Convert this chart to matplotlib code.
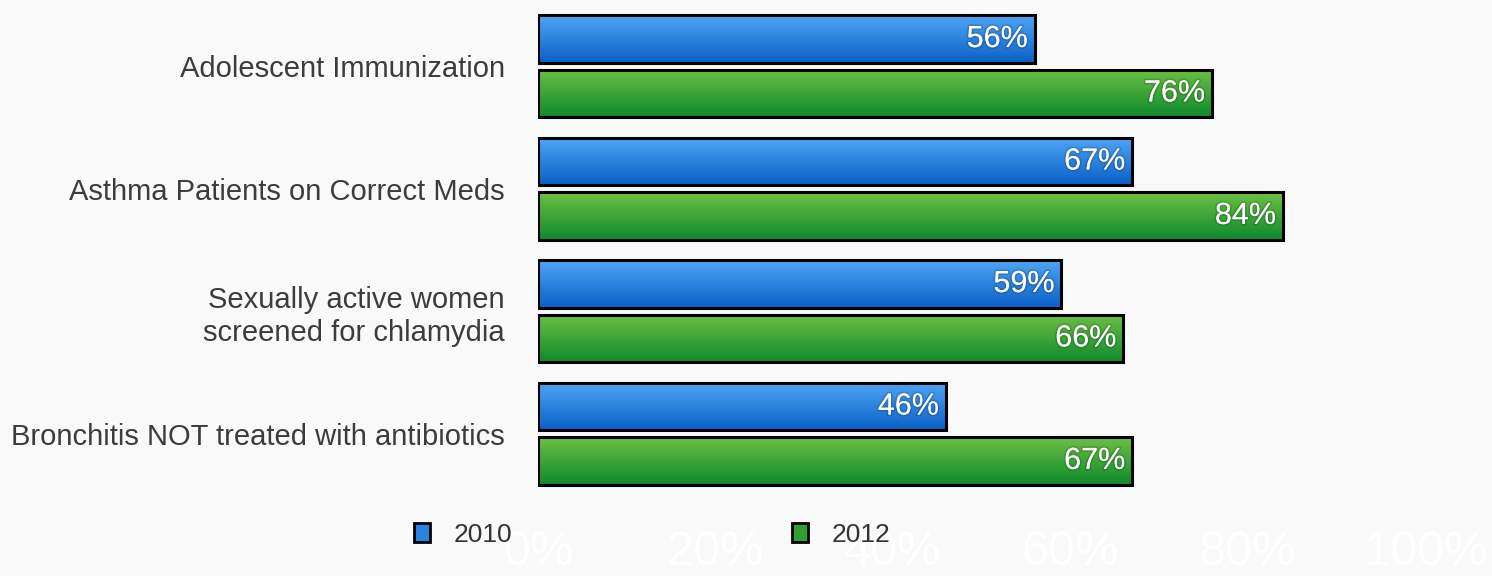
import numpy as np
import matplotlib
matplotlib.use("Agg")
import matplotlib.pyplot as plt
import matplotlib.patheffects as pe
from matplotlib.colors import LinearSegmentedColormap
from matplotlib.patches import Patch
from matplotlib.ticker import FuncFormatter

categories = ["Adolescent Immunization",
              "Asthma Patients on Correct Meds",
              "Sexually active women\nscreened for chlamydia",
              "Bronchitis NOT treated with antibiotics"]
vals_2010 = [56, 67, 59, 46]
vals_2012 = [76, 84, 66, 67]
series_names = ["2010", "2012"]
x_ticks = [0, 20, 40, 60, 80, 100]

plt.rcParams['font.family'] = ['Liberation Sans', 'DejaVu Sans']

bg = "#f9f9f9"
fig = plt.figure(figsize=(14.92, 5.76), dpi=100, facecolor=bg)
ax = fig.add_axes([538 / 1492, 1 - 495 / 576, (1425 - 538) / 1492, 490 / 576])
ax.set_facecolor(bg)

blue_cmap = LinearSegmentedColormap.from_list("b", ["#4ea6f6", "#0b5fc6"])
green_cmap = LinearSegmentedColormap.from_list("g", ["#6cc043", "#0f8a2e"])

y = np.arange(len(categories))
h = 0.39
off = 0.222
grad = np.linspace(0, 1, 64).reshape(-1, 1)

def gradient_bars(vals, pos, cmap):
    bars = ax.barh(pos, vals, height=h, facecolor="none", edgecolor="black",
                   linewidth=2.2, zorder=3)
    for p in bars.patches:
        x0, y0 = p.get_x(), p.get_y()
        im = ax.imshow(grad, cmap=cmap, aspect="auto", origin="upper",
                       extent=(x0, x0 + p.get_width(), y0 + p.get_height(), y0),
                       zorder=2)
        im.set_clip_path(p)
    for v, yy in zip(vals, pos):
        ax.annotate("%d%%" % v, (v, yy), xytext=(-5, 0), textcoords="offset points",
                    ha="right", va="center", color="white", fontsize=22, zorder=4,
                    path_effects=[pe.withStroke(linewidth=2.5, foreground=(0, 0, 0, 0.15))])
    return bars

gradient_bars(vals_2010, y - off, blue_cmap)
gradient_bars(vals_2012, y + off, green_cmap)

ax.set_xlim(0, 100)
ax.set_ylim(3.5, -0.5)
ax.set_xticks(x_ticks)
ax.xaxis.set_major_formatter(FuncFormatter(lambda v, p: "%d%%" % v))
ax.tick_params(axis="x", length=0, pad=25, labelsize=35, labelcolor="white")
ax.set_yticks(y)
ax.set_yticklabels(categories)
ax.tick_params(axis="y", length=0, pad=24, labelsize=21, labelcolor="#3c3c3c")
for s in ax.spines.values():
    s.set_visible(False)

handles = [Patch(facecolor="#2a83e0", edgecolor="black", linewidth=2.0),
           Patch(facecolor="#2f9f35", edgecolor="black", linewidth=2.0)]
fig.legend(handles, series_names, loc="center", bbox_to_anchor=(652 / 1492, 1 - 535 / 576),
           ncol=2, frameon=False, fontsize=19, labelcolor="#333333",
           handlelength=0.6, handleheight=0.75, handletextpad=0.9, columnspacing=10.6)

fig.savefig("out.png", dpi=100, facecolor=bg)
